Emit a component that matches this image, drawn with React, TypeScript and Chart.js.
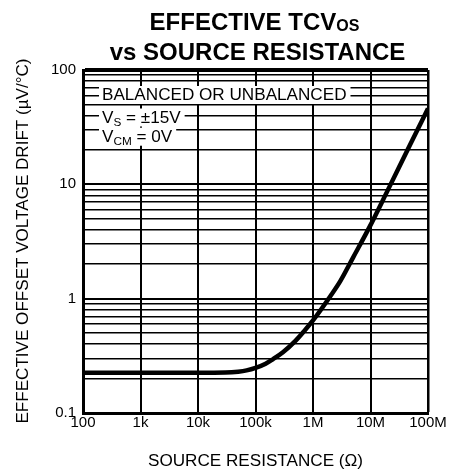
import React, { useEffect, useRef } from 'react';
import { Chart, registerables } from 'chart.js';

Chart.register(...registerables);

// ---- data ----
const resistance = [100, 1e3, 1e4, 3e4, 5e4, 7e4, 1e5, 1.5e5, 2e5, 3e5, 5e5, 7e5, 1e6, 2e6, 3e6, 5e6, 1e7, 2e7, 5e7, 1e8];
const drift = [0.225, 0.225, 0.225, 0.226, 0.23, 0.236, 0.248, 0.27, 0.295, 0.34, 0.43, 0.52, 0.645, 1.05, 1.43, 2.3, 4.4, 8.9, 22.8, 46];

const xTickValues = [100, 1e3, 1e4, 1e5, 1e6, 1e7, 1e8];
const xTickLabels = ['100', '1k', '10k', '100k', '1M', '10M', '100M'];
const yTickValues = [0.1, 1, 10, 100];
const yTickLabels = ['0.1', '1', '10', '100'];
const yMinorMultipliers = [1, 2, 3, 4, 5, 6, 7, 8, 9];

const titleMain = 'EFFECTIVE TCV';
const titleSub = 'OS';
const titleLine2 = 'vs SOURCE RESISTANCE';
const yTitle = 'EFFECTIVE OFFSET VOLTAGE DRIFT (\u00B5V/\u00B0C)';
const xTitle = 'SOURCE RESISTANCE (\u03A9)';

type Run = { t: string; sub?: boolean };
const noteLines: Run[][] = [
  [{ t: 'BALANCED OR UNBALANCED' }],
  [{ t: 'V' }, { t: 'S', sub: true }, { t: ' = \u00B115V' }],
  [{ t: 'V' }, { t: 'CM', sub: true }, { t: ' = 0V' }],
];

const FONT = "'Liberation Sans', Arial, Helvetica, sans-serif";

function round6(v: number) {
  return Number(v.toPrecision(6));
}

const yGridValues: number[] = [];
for (let i = 0; i < yTickValues.length - 1; i++) {
  for (const m of yMinorMultipliers) yGridValues.push(round6(m * yTickValues[i]));
}
yGridValues.push(yTickValues[yTickValues.length - 1]);

function isDecade(v: number) {
  return yTickValues.some((d) => Math.abs(d - v) < 1e-9);
}

function runsWidth(ctx: CanvasRenderingContext2D, runs: Run[], font: string, subFont: string) {
  let w = 0;
  for (const r of runs) {
    ctx.font = r.sub ? subFont : font;
    w += ctx.measureText(r.t).width;
  }
  return w;
}

function drawRuns(
  ctx: CanvasRenderingContext2D,
  runs: Run[],
  x: number,
  baseline: number,
  align: 'left' | 'center',
  sx: number,
  font: string,
  subFont: string,
  subDrop: number
) {
  const w = runsWidth(ctx, runs, font, subFont);
  const start = align === 'center' ? x - (w * sx) / 2 : x;
  ctx.save();
  ctx.translate(start, baseline);
  ctx.scale(sx, 1);
  ctx.textAlign = 'left';
  ctx.textBaseline = 'alphabetic';
  ctx.fillStyle = '#000';
  let cx = 0;
  for (const r of runs) {
    ctx.font = r.sub ? subFont : font;
    ctx.fillText(r.t, cx, r.sub ? subDrop : 0);
    cx += ctx.measureText(r.t).width;
  }
  ctx.restore();
  return w * sx;
}

const textPlugin = {
  id: 'textPlugin',
  beforeDatasetsDraw(chart: any) {
    const ctx: CanvasRenderingContext2D = chart.ctx;
    const ca = chart.chartArea;
    const font = `16px ${FONT}`;
    const subFont = `11px ${FONT}`;
    const sx = 1.07;
    const baselines = [30, 52.5, 71.7];
    const textX = ca.left + 19;
    noteLines.forEach((runs, i) => {
      const b = ca.top + baselines[i];
      const w = runsWidth(ctx, runs, font, subFont) * sx;
      ctx.save();
      ctx.fillStyle = '#fff';
      ctx.fillRect(ca.left + 16, b - 14, w + 7, 18);
      ctx.restore();
    });
    noteLines.forEach((runs, i) => {
      const b = ca.top + baselines[i];
      drawRuns(ctx, runs, textX, b, 'left', sx, font, subFont, 3);
    });
  },
  afterDraw(chart: any) {
    const ctx: CanvasRenderingContext2D = chart.ctx;
    const ca = chart.chartArea;
    const cx = (ca.left + ca.right) / 2;
    // Title
    drawRuns(
      ctx,
      [{ t: titleMain }, { t: titleSub, sub: true }],
      cx - 1,
      29.5,
      'center',
      1,
      `bold 24px ${FONT}`,
      `bold 16px ${FONT}`,
      1.5
    );
    drawRuns(ctx, [{ t: titleLine2 }], cx + 2, 60, 'center', 1, `bold 24px ${FONT}`, `bold 16px ${FONT}`, 0);
    // X axis title
    drawRuns(ctx, [{ t: xTitle }], cx, 466, 'center', 1.07, `16px ${FONT}`, `16px ${FONT}`, 0);
    // Y axis title
    ctx.save();
    ctx.translate(27.5, 241);
    ctx.rotate(-Math.PI / 2);
    drawRuns(ctx, [{ t: yTitle }], 0, 0, 'center', 1.067, `16px ${FONT}`, `16px ${FONT}`, 0);
    ctx.restore();
  },
};

export default function App() {
  const ref = useRef<HTMLCanvasElement>(null);
  useEffect(() => {
    const canvas = ref.current;
    if (!canvas) return;
    const chart = new Chart(canvas, {
      type: 'line',
      data: {
        datasets: [
          {
            data: resistance.map((r, i) => ({ x: r, y: drift[i] })),
            borderColor: '#000',
            borderWidth: 4.5,
            pointRadius: 0,
            fill: false,
            cubicInterpolationMode: 'monotone',
          },
        ],
      },
      options: {
        responsive: false,
        animation: false,
        devicePixelRatio: 1,
        layout: { padding: { left: 0, right: 21, top: 70, bottom: 0 } },
        plugins: {
          legend: { display: false },
          tooltip: { enabled: false },
          title: { display: false },
        },
        scales: {
          x: {
            type: 'logarithmic',
            min: 100,
            max: 1e8,
            position: 'bottom',
            afterBuildTicks: (scale: any) => {
              scale.ticks = xTickValues.map((v) => ({ value: v, major: true }));
            },
            afterFit: (scale: any) => {
              scale.height = 59;
            },
            grid: {
              color: '#000',
              lineWidth: (c: any) => (c.tick && c.tick.value === 1e8 ? 2.5 : 2),
              drawTicks: false,
            },
            border: { display: true, color: '#000', width: 3 },
            ticks: {
              autoSkip: false,
              maxRotation: 0,
              padding: 1,
              color: '#000',
              font: { family: FONT, size: 15 },
              callback: (v: any) => {
                const i = xTickValues.findIndex((t) => Math.abs(t - Number(v)) < 1e-6 * t);
                return i >= 0 ? xTickLabels[i] : '';
              },
            },
          },
          y: {
            type: 'logarithmic',
            min: 0.1,
            max: 100,
            afterBuildTicks: (scale: any) => {
              scale.ticks = yGridValues.map((v) => ({ value: v, major: isDecade(v) }));
            },
            afterFit: (scale: any) => {
              scale.width = 83;
            },
            grid: {
              color: '#000',
              lineWidth: (c: any) => {
                const v = c.tick ? c.tick.value : 0;
                if (v === 100) return 4;
                if (isDecade(v)) return 2;
                return 1.5;
              },
              drawTicks: false,
            },
            border: { display: true, color: '#000', width: 3 },
            ticks: {
              autoSkip: false,
              padding: 7,
              color: '#000',
              font: { family: FONT, size: 15 },
              callback: (v: any) => {
                const i = yTickValues.findIndex((t) => Math.abs(t - Number(v)) < 1e-6 * t);
                return i >= 0 ? yTickLabels[i] : '';
              },
            },
          },
        },
      },
      plugins: [textPlugin],
    } as any);
    return () => chart.destroy();
  }, []);
  return (
    <div style={{ position: 'absolute', left: 0, top: 0, width: 449, height: 472, background: '#fff' }}>
      <canvas ref={ref} width={449} height={472} style={{ display: 'block', width: 449, height: 472 }} />
    </div>
  );
}
